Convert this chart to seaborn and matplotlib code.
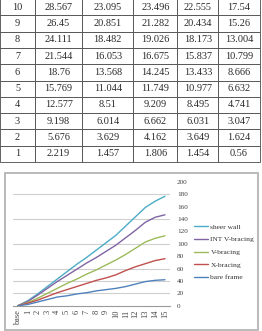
import numpy as np
import pandas as pd
import seaborn as sns
import matplotlib.pyplot as plt
from matplotlib.patches import Rectangle

# table rows (storey 10 down to 1)
storeys = ["10", "9", "8", "7", "6", "5", "4", "3", "2", "1"]
col_a = ["28.567", "26.45", "24.111", "21.544", "18.76", "15.769", "12.577", "9.198", "5.676", "2.219"]
col_b = ["23.095", "20.851", "18.482", "16.053", "13.568", "11.044", "8.51", "6.014", "3.629", "1.457"]
col_c = ["23.496", "21.282", "19.026", "16.675", "14.245", "11.749", "9.209", "6.662", "4.162", "1.806"]
col_d = ["22.555", "20.434", "18.173", "15.837", "13.433", "10.977", "8.495", "6.031", "3.649", "1.454"]
col_e = ["17.54", "15.26", "13.004", "10.799", "8.666", "6.632", "4.741", "3.047", "1.624", "0.56"]

# chart data
levels = ["base", "1", "2", "3", "4", "5", "6", "7", "8", "9", "10", "11", "12", "13", "14", "15"]
sheer_wall = [0, 8, 19, 31, 43, 55, 67, 78, 90, 102, 114, 129, 144, 159, 169, 177]
int_v_bracing = [0, 7, 17, 28, 39, 49, 59, 69, 78, 88, 98, 110, 122, 135, 143, 147]
v_bracing = [0, 5, 12, 20, 28, 36, 43, 51, 58, 66, 74, 83, 93, 103, 109, 113]
x_bracing = [0, 4, 9, 15, 21, 26, 31, 36, 41, 45, 50, 57, 63, 68, 73, 76]
bare_frame = [0, 2, 6, 10, 14, 16, 19, 21, 24, 26, 28, 31, 35, 39, 41, 42]
y_ticks = [0, 20, 40, 60, 80, 100, 120, 140, 160, 180, 200]
grid_levels = [20, 40, 60, 100, 140, 180]

series = {
    "sheer wall": sheer_wall,
    "INT V-bracing": int_v_bracing,
    "V-bracing": v_bracing,
    "X-bracing": x_bracing,
    "bare frame": bare_frame,
}
palette = {
    "sheer wall": "#4BACC6",
    "INT V-bracing": "#8064A2",
    "V-bracing": "#9BBB59",
    "X-bracing": "#C0504D",
    "bare frame": "#4F81BD",
}

rows = []
for name, vals in series.items():
    for i, v in enumerate(vals):
        rows.append({"pos": i, "value": v, "system": name})
df = pd.DataFrame(rows)

sns.set_style("white")
plt.rcParams["font.family"] = ["Liberation Serif", "DejaVu Serif"]

W, H = 262, 331
fig = plt.figure(figsize=(W / 100, H / 100), dpi=100)

# ---- table ----
ax_t = fig.add_axes([0, (H - 162) / H, 259.5 / W, 163 / H])
ax_t.axis("off")
cell_text = [list(r) for r in zip(storeys, col_a, col_b, col_c, col_d, col_e)]
widths = np.array([35, 47, 51, 44, 41, 41], dtype=float)
tab = ax_t.table(cellText=cell_text, colWidths=list(widths / widths.sum()),
                 cellLoc="center", bbox=[0, 0, 1, 1])
tab.auto_set_font_size(False)
for cell in tab.get_celld().values():
    cell.set_edgecolor("#4a4a4a")
    cell.set_linewidth(0.6)
    cell.get_text().set_fontsize(7.4)
    cell.get_text().set_color("#2a2a2a")

# ---- chart frame ----
fig.patches.append(Rectangle((5 / W, 1 / H), 253 / W, 157 / H, transform=fig.transFigure,
                             fill=False, edgecolor="#b4b4b4", linewidth=1.3))

ax = fig.add_axes([13.1 / W, (H - 305.7) / H, 156.8 / W, 123.7 / H])
for lvl in grid_levels:
    ax.axhline(lvl, color="#cfcfcf", linewidth=0.8, zorder=0)

sns.lineplot(data=df, x="pos", y="value", hue="system", hue_order=list(series.keys()),
             palette=palette, linewidth=1.0, ax=ax, legend=True)

ax.set_xlim(-0.5, len(levels) - 0.5)
ax.set_ylim(0, 200)
ax.set_xlabel("")
ax.set_ylabel("")
for s in ["top", "left", "right"]:
    ax.spines[s].set_visible(False)
ax.spines["bottom"].set_color("#9a9a9a")
ax.spines["bottom"].set_linewidth(0.8)

ax.set_xticks(range(len(levels)))
ax.set_xticklabels(levels, rotation=90, fontsize=6, color="#444444")
ax.set_xticks(np.arange(-0.5, len(levels), 1.0), minor=True)
ax.tick_params(axis="x", which="major", length=0, pad=3)
ax.tick_params(axis="x", which="minor", length=2.2, width=0.6, color="#9a9a9a")

ax.yaxis.tick_right()
ax.set_yticks(y_ticks)
ax.set_yticklabels([str(t) for t in y_ticks], fontsize=5.2, color="#444444")
ax.tick_params(axis="y", length=0, pad=5)

ax.legend(loc="center left", bbox_to_anchor=(194 / W, 1 - 252 / H),
          bbox_transform=fig.transFigure, frameon=False, fontsize=5.4,
          handlelength=1.9, handletextpad=0.3, labelspacing=0.85,
          borderpad=0, borderaxespad=0)
for t in ax.get_legend().get_texts():
    t.set_color("#333333")

plt.savefig("out.png", dpi=100)
plt.close()
